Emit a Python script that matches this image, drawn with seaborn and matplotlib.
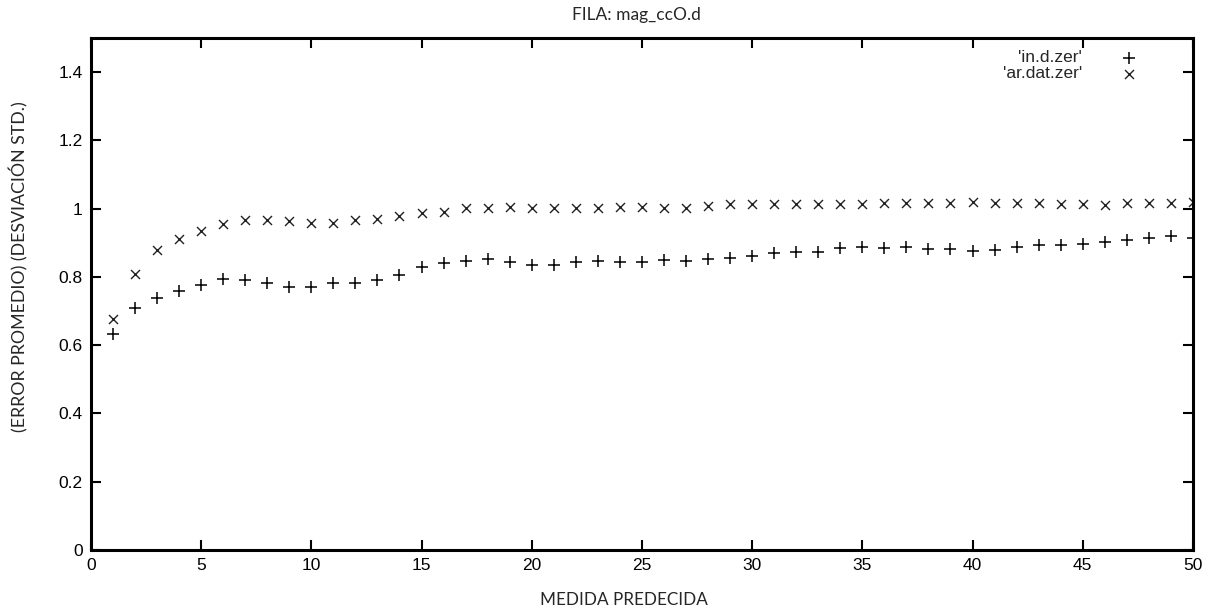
import matplotlib
matplotlib.use("Agg")
import matplotlib.pyplot as plt
import seaborn as sns
import pandas as pd

# ── Données ───────────────────────────────────────────────────────────────
medida = list(range(1, 51))

in_d_zer = [
    0.634, 0.710, 0.739, 0.760, 0.777, 0.794, 0.790, 0.781, 0.770, 0.770,
    0.781, 0.781, 0.792, 0.806, 0.828, 0.842, 0.846, 0.853, 0.843, 0.834,
    0.836, 0.843, 0.848, 0.843, 0.843, 0.849, 0.848, 0.853, 0.856, 0.861,
    0.869, 0.873, 0.873, 0.884, 0.887, 0.884, 0.887, 0.881, 0.881, 0.876,
    0.879, 0.888, 0.894, 0.894, 0.897, 0.902, 0.907, 0.913, 0.920, 0.913,
]

ar_dat_zer = [
    0.677, 0.808, 0.878, 0.910, 0.936, 0.954, 0.967, 0.967, 0.965, 0.959,
    0.959, 0.967, 0.971, 0.978, 0.988, 0.991, 1.001, 1.003, 1.006, 1.003,
    1.003, 1.001, 1.001, 1.006, 1.006, 1.001, 1.003, 1.008, 1.013, 1.015,
    1.015, 1.013, 1.013, 1.013, 1.013, 1.016, 1.018, 1.018, 1.018, 1.020,
    1.018, 1.016, 1.018, 1.013, 1.013, 1.011, 1.018, 1.016, 1.018, 1.020,
]

x_ticks = list(range(0, 51, 5))
y_ticks = [0, 0.2, 0.4, 0.6, 0.8, 1.0, 1.2, 1.4]
y_labels = ["0", "0.2", "0.4", "0.6", "0.8", "1", "1.2", "1.4"]

df = pd.DataFrame({"x": medida, "in": in_d_zer, "ar": ar_dat_zer})

# ── Style ────────────────────────────────────────────────────────────────
sns.set_style("ticks")
plt.rcParams["font.family"] = ["Liberation Sans", "DejaVu Sans"]
label_font = ["Lato", "DejaVu Sans"]

fig = plt.figure(figsize=(12.16, 6.11), dpi=100)
ax = fig.add_axes([0.0748, 0.0998, 0.9062, 0.838])

sns.scatterplot(data=df, x="x", y="in", marker="+", s=70, color="black",
                linewidth=1.1, label="'in.d.zer'", ax=ax)
sns.scatterplot(data=df, x="x", y="ar", marker="x", s=42, color="#222222",
                linewidth=1.0, label="'ar.dat.zer'", ax=ax)

ax.set_xlim(0, 50)
ax.set_ylim(0, 1.5)
ax.set_xticks(x_ticks)
ax.set_yticks(y_ticks)
ax.set_yticklabels(y_labels)
ax.tick_params(direction="in", length=7, width=1.5, top=True, right=True,
               labelsize=12.5, colors="black", pad=6)
for sp in ax.spines.values():
    sp.set_linewidth(2.2)
    sp.set_color("black")

ax.set_xlabel("MEDIDA PREDECIDA", family=label_font, fontsize=12.3)
ax.set_ylabel("(ERROR PROMEDIO) (DESVIACIÓN STD.)", family=label_font,
              fontsize=12.8)
ax.xaxis.set_label_coords(0.484, -0.082)
ax.yaxis.set_label_coords(-0.057, 0.554)
ax.set_title("FILA: mag_ccO.d", family=label_font, fontsize=12.5, pad=13,
             x=0.4946)

leg = ax.legend(loc="upper right", frameon=False, markerfirst=False,
                fontsize=12.5, handletextpad=1.7, labelspacing=0.05,
                borderaxespad=0.3, bbox_to_anchor=(0.969, 1.0))

plt.savefig("out.png", dpi=100)
